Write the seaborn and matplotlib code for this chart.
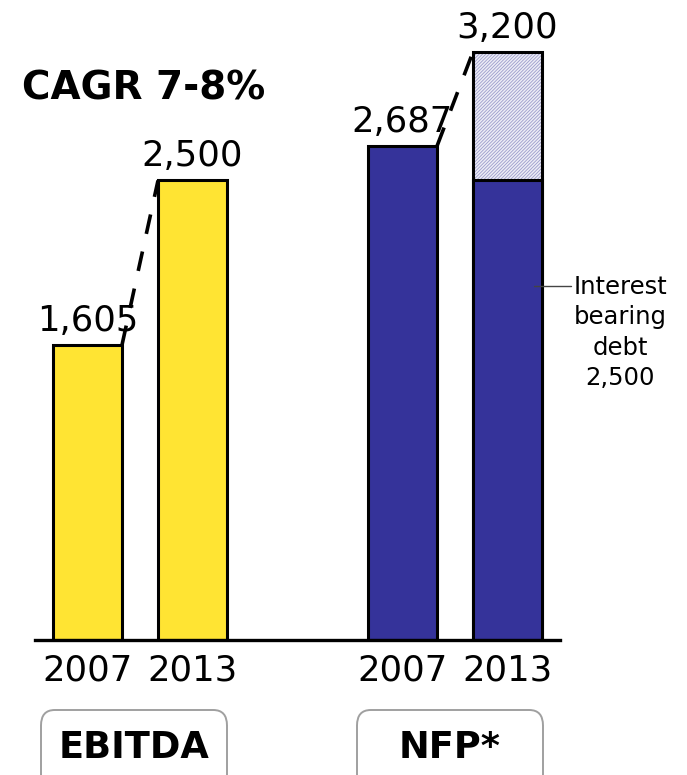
import matplotlib
matplotlib.use("Agg")
import matplotlib.pyplot as plt
from matplotlib.patches import FancyBboxPatch
import seaborn as sns
import pandas as pd

# Data
groups = ["EBITDA", "NFP*"]
years = ["2007", "2013", "2007", "2013"]
positions = [0, 1, 3, 4]
keys = ["ebitda_2007", "ebitda_2013", "nfp_2007", "nfp_2013"]
totals = [1605, 2500, 2687, 3200]
interest_bearing_debt_2013 = 2500
headline = "CAGR 7-8%"
debt_label = "Interest\nbearing\ndebt\n2,500"

YELLOW = "#FFE433"
BLUE = "#35339A"
LAVENDER = "#EDEDF6"
HATCH = "#9C9CCB"

sns.set_theme(style="white")
plt.rcParams["font.family"] = ["DejaVu Sans"]
plt.rcParams["hatch.linewidth"] = 0.6

W, H = 687, 775
fig = plt.figure(figsize=(W / 100, H / 100), dpi=100)
fig.patch.set_facecolor("white")

px_per_unit = 0.1838
base_y = 640
ax = fig.add_axes([35 / W, (H - base_y) / H, 525 / W, base_y / H])

df = pd.DataFrame({"pos": positions, "value": totals, "key": keys})
palette = {"ebitda_2007": YELLOW, "ebitda_2013": YELLOW, "nfp_2007": BLUE, "nfp_2013": LAVENDER}
bw = 0.657

# Full-height bars
sns.barplot(data=df, x="pos", y="value", hue="key", palette=palette, native_scale=True,
            dodge=False, width=bw, edgecolor="black", linewidth=2.2, legend=False, ax=ax,
            saturation=1, errorbar=None)
for p in ax.patches:
    if abs(p.get_height() - totals[3]) < 1e-6:
        p.set_hatch("//////////")
        p.set_edgecolor(HATCH)
        p.set_linewidth(0)

# Outline of the hatched bar
sns.barplot(x=[positions[3]], y=[totals[3]], native_scale=True, width=bw, fill=False,
            edgecolor="black", linewidth=2.2, ax=ax, errorbar=None)

# Interest bearing debt part of NFP 2013
sns.barplot(x=[positions[3]], y=[interest_bearing_debt_2013], native_scale=True, width=bw,
            color=BLUE, saturation=1, edgecolor="black", linewidth=2.2, ax=ax, errorbar=None)

ax.set_xlim(-0.5, 4.5)
ax.set_ylim(0, base_y / px_per_unit)
for s in ["top", "right", "left"]:
    ax.spines[s].set_visible(False)
ax.spines["bottom"].set_linewidth(2.4)
ax.spines["bottom"].set_color("black")
ax.set_yticks([])
ax.set_xticks(positions)
ax.set_xticklabels(years, fontsize=25.5)
ax.tick_params(axis="x", length=0, pad=10, colors="black")
ax.set_xlabel("")
ax.set_ylabel("")

# Value labels
for x, v in zip(positions, totals):
    ax.annotate(f"{v:,}", (x, v), xytext=(0, 7), textcoords="offset pixels",
                ha="center", va="bottom", fontsize=25.5, color="black")

# Dashed growth connectors
half = bw / 2
for a, b in [(0, 1), (2, 3)]:
    ax.plot([positions[a] + half, positions[b] - half], [totals[a], totals[b]],
            color="black", linewidth=2.6, linestyle=(0, (5.5, 5)), solid_capstyle="butt",
            zorder=5)

# Debt callout
y_call = (base_y - 286) / px_per_unit
ax.plot([positions[3] + 0.25, positions[3] + 0.6], [y_call, y_call], color="#444444",
        linewidth=1.0, clip_on=False, zorder=6)
fig.text(620 / W, 1 - 275 / H, debt_label, ha="center", va="top", fontsize=17.5,
         linespacing=1.33, color="black")

# Headline
fig.text(22 / W, 1 - 89 / H, headline, ha="left", va="center", fontsize=28,
         fontweight="bold", color="black")

# Group label boxes
for label, cx in zip(groups, [134, 450]):
    box = FancyBboxPatch(((cx - 93) / W, 1 - 790 / H), 186 / W, 80 / H,
                         boxstyle="round,pad=0,rounding_size=0.02",
                         transform=fig.transFigure, facecolor="white",
                         edgecolor="#A0A0A0", linewidth=1.4, clip_on=False)
    fig.patches.append(box)
    fig.text(cx / W, 1 - 748 / H, label, ha="center", va="center", fontsize=26.5,
             fontweight="bold", color="black")

fig.savefig("out.png", dpi=100)
